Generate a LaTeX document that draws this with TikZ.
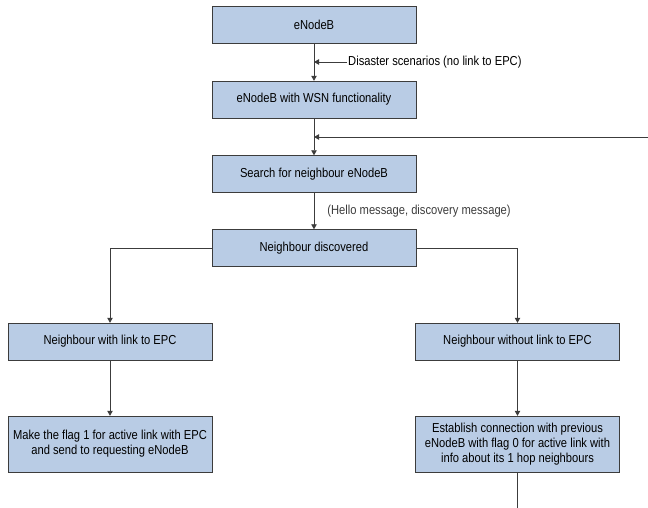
\documentclass[tikz,border=0pt]{standalone}
\usepackage{fontspec}
\setmainfont{Liberation Sans}[FakeStretch=0.86]
\usepackage{tikz}
\usetikzlibrary{arrows.meta,positioning,calc}
\definecolor{boxblue}{RGB}{185,204,229}
\definecolor{edgegray}{RGB}{60,60,60}

\begin{document}
\begin{tikzpicture}[x=1pt, y=-1pt,
    blk/.style={draw=edgegray, fill=boxblue, minimum width=204pt, minimum height=37pt, align=center, inner sep=2pt, font=\fontsize{13}{15}\selectfont},
    arr/.style={-{Triangle[length=5pt,width=5.5pt]}, edgegray, line width=0.8pt},
    ln/.style={edgegray, line width=0.8pt},
    lbl/.style={font=\fontsize{13}{15}\selectfont, inner sep=1pt}
]
\useasboundingbox (0,0) rectangle (648,508);
\node[blk] (enb) at (314,25) {eNodeB};
\node[blk] (wsn) at (314,99.5) {eNodeB with WSN functionality};
\node[blk] (search) at (314,174) {Search for neighbour eNodeB};
\node[blk] (disc) at (314,248) {Neighbour discovered};
\node[blk] (withepc) at (110,341.5) {Neighbour with link to EPC};
\node[blk] (noepc) at (517.5,341.5) {Neighbour without link to EPC};
\node[blk, minimum height=56pt] (flag) at (110,444) {Make the flag 1 for active link with EPC\\and send to requesting eNodeB};
\node[blk, minimum height=56pt] (est) at (517.5,444) {Establish connection with previous\\eNodeB with flag 0 for active link with\\info about its 1 hop neighbours};

\coordinate (dis) at (347,62);
\coordinate (loopin) at (648,137);
\coordinate (loopout) at (517.5,508);

\draw[arr] (enb) -- (wsn);
\draw[arr] (dis) -- (dis -| enb.south);
\node[lbl, anchor=west] (distxt) at (dis) {Disaster scenarios (no link to EPC)};
\draw[arr] (wsn) -- (search);
\draw[arr] (loopin) -- (loopin -| wsn.south);
\draw[arr] (search) -- node[lbl, anchor=west, xshift=12pt] {(Hello message, discovery message)} (disc);
\draw[arr] (disc.west) -| (withepc.north);
\draw[arr] (disc.east) -| (noepc.north);
\draw[arr] (withepc) -- (flag);
\draw[arr] (noepc) -- (est);
\draw[ln] (est) -- (loopout);
\end{tikzpicture}
\end{document}
